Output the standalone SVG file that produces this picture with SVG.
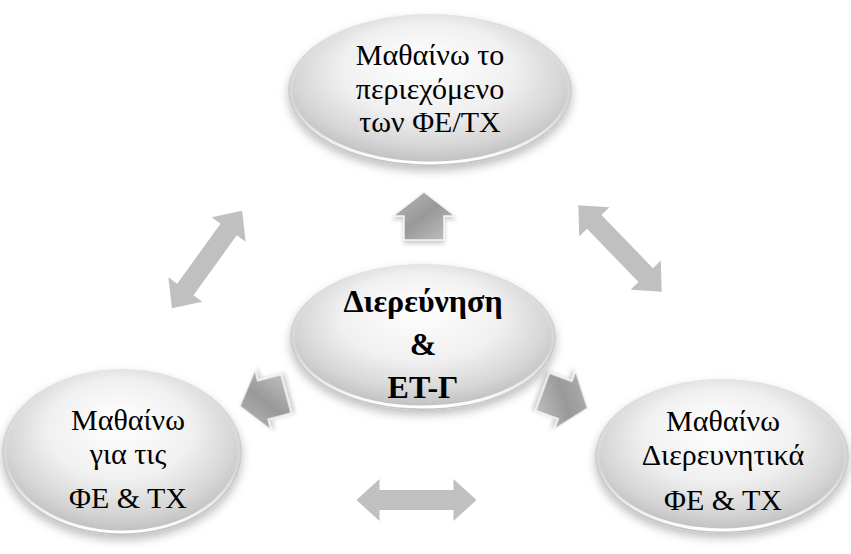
<svg xmlns="http://www.w3.org/2000/svg" width="851" height="554" viewBox="0 0 851 554">
<defs>
<radialGradient id="gBall" cx="50%" cy="42%" r="55%" fx="48%" fy="30%">
<stop offset="0" stop-color="#ffffff"/>
<stop offset="0.55" stop-color="#f0f0f0"/>
<stop offset="0.85" stop-color="#d6d6d6"/>
<stop offset="1" stop-color="#c2c2c2"/>
</radialGradient>
<linearGradient id="gRim" x1="0" y1="0" x2="0" y2="1">
<stop offset="0" stop-color="#ffffff" stop-opacity="0"/>
<stop offset="0.6" stop-color="#ffffff" stop-opacity="0.2"/>
<stop offset="1" stop-color="#ffffff" stop-opacity="1"/>
</linearGradient>
<linearGradient id="gArrow" x1="0" y1="0" x2="1" y2="1">
<stop offset="0" stop-color="#b8b8b8"/>
<stop offset="0.5" stop-color="#999999"/>
<stop offset="1" stop-color="#c4c4c4"/>
</linearGradient>
<filter id="shadow" x="-20%" y="-20%" width="140%" height="150%">
<feDropShadow dx="0" dy="5" stdDeviation="5" flood-color="#000000" flood-opacity="0.25"/>
</filter>
<filter id="ashadow" x="-30%" y="-30%" width="160%" height="160%">
<feDropShadow dx="0" dy="3" stdDeviation="2" flood-color="#000000" flood-opacity="0.2"/>
</filter>
<path id="blockUp" d="M0,-24 L31,0 L20,0 L20,24 L-20,24 L-20,0 L-31,0 Z"/>
<path id="dbl" d="M-60,0 L-37,-21 L-37,-10 L37,-10 L37,-21 L60,0 L37,21 L37,10 L-37,10 L-37,21 Z"/>
</defs>
<style>
.ball{fill:url(#gBall);filter:url(#shadow);}
.rim{fill:none;stroke:url(#gRim);stroke-width:3;}
.t{font-family:"Liberation Serif","Times New Roman",serif;font-size:30px;fill:#000;text-anchor:middle;}
.b{font-family:"Liberation Serif","Times New Roman",serif;font-size:32px;font-weight:bold;fill:#000;text-anchor:middle;}
.blk{fill:url(#gArrow);stroke:#f4f4f4;stroke-width:1.5;stroke-linejoin:miter;filter:url(#ashadow);}
.dbl{fill:#c0c0c0;}
</style>

<g id="connectors">
<use href="#dbl" class="dbl" transform="translate(207,259.5) rotate(-54.2)"/>
<use href="#dbl" class="dbl" transform="translate(620,248.5) rotate(46)"/>
<use href="#dbl" class="dbl" transform="translate(416.5,500)"/>
<use href="#blockUp" class="blk" transform="translate(424,216)"/>
<use href="#blockUp" class="blk" transform="translate(263,400) rotate(-105)"/>
<use href="#blockUp" class="blk" transform="translate(565,400) rotate(110)"/>
</g>

<g id="node-top">
<ellipse class="ball" cx="430" cy="90" rx="142" ry="76"/>
<ellipse class="rim" cx="430" cy="90" rx="139" ry="73"/>
<text class="t" x="430" y="65">Μαθαίνω το</text>
<text class="t" x="430" y="98.5">περιεχόμενο</text>
<text class="t" x="430" y="132">των ΦΕ/ΤΧ</text>
</g>

<g id="node-center">
<ellipse class="ball" cx="423" cy="337" rx="133" ry="73"/>
<ellipse class="rim" cx="423" cy="337" rx="130" ry="70"/>
<text class="b" x="423" y="312">Διερεύνηση</text>
<text class="b" x="423" y="355">&amp;</text>
<text class="b" x="423" y="398">ΕΤ-Γ</text>
</g>

<g id="node-left">
<ellipse class="ball" cx="122" cy="452" rx="120" ry="83"/>
<ellipse class="rim" cx="122" cy="452" rx="117" ry="80"/>
<text class="t" x="128" y="430">Μαθαίνω</text>
<text class="t" x="128" y="463.5">για τις</text>
<text class="t" x="128" y="508">ΦΕ &amp; ΤΧ</text>
</g>

<g id="node-right">
<ellipse class="ball" cx="722" cy="456" rx="127" ry="77"/>
<ellipse class="rim" cx="722" cy="456" rx="124" ry="74"/>
<text class="t" x="723" y="431">Μαθαίνω</text>
<text class="t" x="723" y="464.5">Διερευνητικά</text>
<text class="t" x="723" y="510">ΦΕ &amp; ΤΧ</text>
</g>
</svg>
